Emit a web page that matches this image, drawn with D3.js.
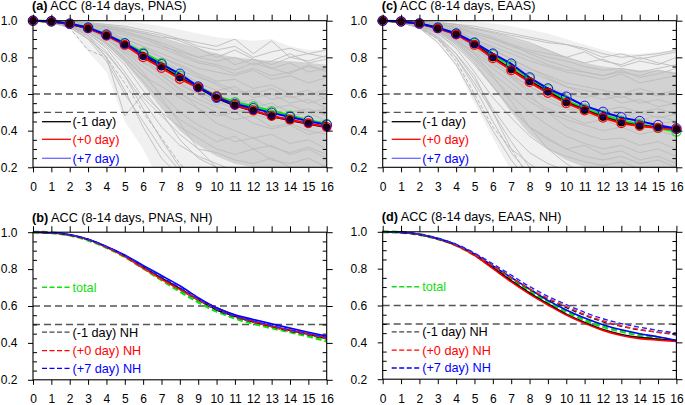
<!DOCTYPE html>
<html><head><meta charset="utf-8">
<script src="https://cdn.jsdelivr.net/npm/d3@7"></script>
<style>body{margin:0;background:#fff}svg{display:block}text{font-family:"Liberation Sans",Arial,Helvetica,sans-serif}</style>
</head><body><svg id="c" width="685" height="405"></svg>
<script>
// ---------- data ----------
const days = [0,1,2,3,4,5,6,7,8,9,10,11,12,13,14,15,16];
const xTicks = days;
const yTicks = [0.2,0.4,0.6,0.8,1.0];
const yMinorTicks = [0.25,0.3,0.35,0.45,0.5,0.55,0.65,0.7,0.75,0.85,0.9,0.95];
const refLevels = [0.6,0.5];

// panel (a) PNAS
const aM1 = [1,0.996,0.982,0.96,0.92,0.871,0.807,0.75,0.69,0.635,0.578,0.537,0.508,0.478,0.457,0.437,0.418];
const aP0 = [1,0.996,0.982,0.958,0.918,0.868,0.8,0.742,0.682,0.635,0.588,0.54,0.51,0.48,0.46,0.44,0.42];
const aP7 = [1,0.997,0.984,0.962,0.924,0.876,0.818,0.762,0.71,0.64,0.58,0.545,0.522,0.497,0.475,0.452,0.432];
const aTot = [1,0.997,0.984,0.962,0.923,0.877,0.825,0.77,0.7,0.64,0.588,0.555,0.532,0.507,0.482,0.456,0.436];
const aOuterHi = [1,1,1,1,0.998,0.995,0.985,0.97,0.95,0.93,0.91,0.9,0.89,0.9,0.86,0.84,0.84];
const aOuterLo = [1,0.99,0.96,0.83,0.72,0.45,0.3,0.1,0,0,0,0,0,0,0,0,0];
const aCoreHi = [1,1,0.998,0.99,0.98,0.965,0.94,0.91,0.88,0.85,0.82,0.8,0.79,0.78,0.78,0.77,0.76];
const aCoreLo = [1,0.995,0.975,0.935,0.87,0.77,0.65,0.52,0.4,0.32,0.26,0.22,0.2,0.18,0.16,0.15,0.14];
const aGrey = [
 [1,1,0.995,0.985,0.97,0.95,0.93,0.91,0.9,0.88,0.86,0.9,0.82,0.89,0.8,0.82,0.84],
 [1,1,0.99,0.98,0.96,0.94,0.91,0.88,0.84,0.8,0.78,0.8,0.76,0.78,0.82,0.77,0.79],
 [1,1,0.99,0.97,0.94,0.9,0.86,0.82,0.78,0.74,0.72,0.7,0.73,0.68,0.7,0.66,0.69],
 [1,0.995,0.985,0.96,0.92,0.87,0.81,0.76,0.72,0.66,0.62,0.64,0.58,0.6,0.55,0.57,0.52],
 [1,0.995,0.98,0.95,0.9,0.83,0.75,0.68,0.6,0.55,0.5,0.46,0.48,0.42,0.44,0.4,0.38],
 [1,0.99,0.975,0.94,0.87,0.78,0.67,0.56,0.46,0.4,0.34,0.37,0.3,0.32,0.27,0.3,0.25],
 [1,0.99,0.97,0.92,0.83,0.7,0.56,0.42,0.32,0.26,0.22,0.18,0.2,0.15,0.17,0.12,0.14],
 [1,0.99,0.965,0.9,0.78,0.6,0.45,0.3,0.18,0.1,0.1,0.05,0.08,0.02,0.05,0,0.03],
 [1,1,0.99,0.975,0.95,0.92,0.88,0.85,0.81,0.77,0.75,0.71,0.74,0.7,0.72,0.75,0.73],
 [1,1,0.99,0.97,0.93,0.88,0.82,0.78,0.73,0.69,0.66,0.62,0.6,0.63,0.58,0.6,0.62],
 [1,0.995,0.98,0.955,0.91,0.85,0.78,0.7,0.63,0.57,0.53,0.5,0.52,0.46,0.48,0.5,0.45],
 [1,0.995,0.985,0.96,0.93,0.88,0.8,0.71,0.62,0.52,0.44,0.4,0.36,0.38,0.33,0.35,0.3],
 [1,0.99,0.97,0.93,0.86,0.76,0.62,0.5,0.42,0.36,0.3,0.27,0.3,0.24,0.22,0.25,0.2],
 [1,1,0.99,0.98,0.96,0.93,0.9,0.86,0.83,0.8,0.82,0.76,0.79,0.74,0.77,0.72,0.74],
 [1,0.995,0.98,0.94,0.88,0.79,0.7,0.64,0.58,0.52,0.48,0.5,0.44,0.41,0.43,0.38,0.4],
 [1,0.99,0.975,0.95,0.9,0.82,0.72,0.58,0.44,0.3,0.2,0.14,0.16,0.1,0.12,0.08,0.1],
 [1,1,0.99,0.97,0.94,0.89,0.84,0.8,0.76,0.71,0.67,0.68,0.63,0.65,0.6,0.62,0.57],
 [1,0.99,0.97,0.92,0.8,0.48,0.6,0.5,0.35,0.25,0.2,0.15,0.18,0.1,0.12,0.08,0.1],
 [1,1,0.995,0.99,0.98,0.97,0.95,0.93,0.9,0.86,0.84,0.86,0.8,0.83,0.85,0.82,0.8],
 [1,0.99,0.97,0.91,0.8,0.62,0.42,0.25,0.15,0.1,0.05,0.07,0.02,0.04,0,0.02,-0.02],
 [1,0.995,0.98,0.95,0.9,0.84,0.77,0.72,0.66,0.6,0.58,0.55,0.57,0.52,0.54,0.5,0.52],
 [1,1,0.995,0.985,0.965,0.94,0.91,0.87,0.82,0.78,0.76,0.73,0.77,0.74,0.71,0.76,0.72],
 [1,0.99,0.97,0.94,0.88,0.8,0.7,0.6,0.5,0.43,0.38,0.34,0.36,0.31,0.28,0.31,0.27],
 [1,0.99,0.975,0.93,0.85,0.72,0.58,0.48,0.38,0.3,0.28,0.24,0.22,0.25,0.2,0.18,0.21],
 [1,1,0.99,0.975,0.95,0.9,0.86,0.8,0.75,0.7,0.65,0.6,0.62,0.57,0.59,0.55,0.58],
 [1,1,0.995,0.985,0.97,0.955,0.94,0.92,0.89,0.85,0.8,0.84,0.79,0.76,0.8,0.78,0.81],
 [1,0.99,0.965,0.9,0.82,0.7,0.52,0.35,0.2,0.12,0.08,0.05,0.06,0.02,0.03,0,0.02],
 [1,0.995,0.985,0.955,0.91,0.86,0.8,0.74,0.68,0.62,0.56,0.52,0.49,0.46,0.48,0.44,0.46],
 [1,0.995,0.98,0.96,0.92,0.86,0.79,0.72,0.65,0.6,0.54,0.58,0.53,0.55,0.5,0.52,0.48]
];
const aGreyDashed = [[1,0.99,0.96,0.84,0.8,0.66,0.5,0.36,0.22,0.12,0.05,0.08,0,0.02,-0.02,0,-0.05]];

// panel (c) EAAS
const cM1 = [1,0.995,0.984,0.96,0.928,0.872,0.8,0.735,0.67,0.613,0.555,0.513,0.475,0.445,0.427,0.418,0.41];
const cP0 = [1,0.995,0.983,0.958,0.925,0.868,0.795,0.73,0.665,0.605,0.55,0.51,0.47,0.44,0.425,0.415,0.408];
const cP7 = [1,0.996,0.985,0.962,0.93,0.88,0.82,0.765,0.69,0.63,0.585,0.535,0.502,0.472,0.452,0.43,0.412];
const cTot = [1,0.996,0.985,0.961,0.929,0.877,0.815,0.755,0.685,0.625,0.565,0.52,0.485,0.455,0.435,0.415,0.395];
const cOuterHi = [1,1,1,1,0.998,0.995,0.985,0.97,0.95,0.93,0.9,0.87,0.84,0.82,0.82,0.83,0.84];
const cOuterLo = [1,0.99,0.96,0.88,0.75,0.55,0.36,0.18,0,0,0,0,0,0,0,0,0];
const cCoreHi = [1,1,0.998,0.99,0.98,0.96,0.935,0.905,0.875,0.84,0.8,0.77,0.75,0.74,0.73,0.73,0.72];
const cCoreLo = [1,0.995,0.975,0.935,0.87,0.77,0.64,0.5,0.38,0.3,0.24,0.2,0.18,0.16,0.15,0.14,0.13];
const cGrey = [
 [1,1,0.995,0.99,0.98,0.96,0.94,0.92,0.9,0.88,0.87,0.85,0.82,0.8,0.81,0.82,0.84],
 [1,1,0.99,0.98,0.96,0.93,0.9,0.87,0.84,0.82,0.8,0.83,0.78,0.76,0.8,0.77,0.75],
 [1,1,0.99,0.97,0.94,0.9,0.86,0.82,0.78,0.75,0.72,0.7,0.68,0.71,0.66,0.68,0.7],
 [1,0.995,0.985,0.96,0.92,0.86,0.8,0.74,0.68,0.64,0.6,0.58,0.6,0.55,0.57,0.53,0.55],
 [1,0.995,0.98,0.95,0.89,0.82,0.74,0.66,0.58,0.52,0.48,0.44,0.46,0.42,0.44,0.4,0.42],
 [1,0.99,0.97,0.93,0.86,0.76,0.64,0.52,0.42,0.35,0.3,0.32,0.27,0.29,0.24,0.26,0.22],
 [1,0.99,0.965,0.91,0.82,0.68,0.52,0.38,0.28,0.22,0.18,0.15,0.17,0.12,0.14,0.1,0.12],
 [1,0.99,0.96,0.88,0.76,0.58,0.4,0.24,0.12,0.05,0,0.03,-0.02,0,-0.03,0,-0.05],
 [1,1,0.99,0.975,0.95,0.92,0.88,0.84,0.8,0.76,0.73,0.72,0.7,0.72,0.7,0.73,0.71],
 [1,1,0.99,0.97,0.93,0.88,0.82,0.77,0.72,0.68,0.64,0.62,0.6,0.58,0.61,0.59,0.6],
 [1,0.995,0.98,0.955,0.91,0.85,0.77,0.69,0.62,0.56,0.52,0.49,0.47,0.5,0.46,0.48,0.45],
 [1,0.995,0.985,0.96,0.93,0.87,0.79,0.7,0.6,0.5,0.42,0.38,0.35,0.36,0.32,0.34,0.3],
 [1,0.99,0.975,0.94,0.87,0.77,0.64,0.52,0.42,0.36,0.3,0.26,0.24,0.26,0.22,0.24,0.2],
 [1,1,0.99,0.98,0.96,0.93,0.9,0.86,0.83,0.8,0.78,0.75,0.73,0.74,0.72,0.74,0.76],
 [1,0.995,0.98,0.945,0.89,0.8,0.71,0.63,0.56,0.5,0.46,0.43,0.4,0.42,0.38,0.4,0.37],
 [1,0.99,0.975,0.95,0.9,0.82,0.7,0.56,0.42,0.3,0.22,0.16,0.12,0.14,0.1,0.12,0.08],
 [1,1,0.99,0.97,0.94,0.89,0.84,0.79,0.74,0.7,0.66,0.64,0.62,0.6,0.63,0.6,0.62],
 [1,0.99,0.97,0.92,0.82,0.7,0.5,0.3,0.22,0.15,0.1,0.06,0.08,0.03,0.05,0.02,0.04],
 [1,1,0.995,0.99,0.98,0.97,0.95,0.93,0.91,0.89,0.87,0.84,0.8,0.82,0.79,0.81,0.83],
 [1,0.99,0.97,0.91,0.8,0.64,0.45,0.28,0.16,0.1,0.06,0.03,0.05,0,0.02,-0.02,0],
 [1,0.995,0.98,0.95,0.9,0.83,0.76,0.7,0.64,0.59,0.56,0.53,0.51,0.53,0.5,0.52,0.49],
 [1,1,0.995,0.985,0.965,0.94,0.91,0.87,0.82,0.78,0.75,0.72,0.7,0.73,0.69,0.71,0.74],
 [1,0.99,0.97,0.94,0.88,0.79,0.69,0.59,0.5,0.43,0.37,0.33,0.3,0.32,0.28,0.3,0.26],
 [1,0.99,0.975,0.93,0.85,0.72,0.58,0.47,0.37,0.3,0.26,0.23,0.21,0.23,0.19,0.2,0.17],
 [1,1,0.99,0.975,0.95,0.9,0.85,0.79,0.74,0.69,0.64,0.6,0.57,0.59,0.55,0.57,0.54],
 [1,1,0.995,0.985,0.97,0.955,0.935,0.91,0.88,0.84,0.8,0.77,0.79,0.75,0.78,0.76,0.8],
 [1,0.99,0.965,0.9,0.8,0.66,0.5,0.34,0.2,0.12,0.07,0.05,0.03,0.05,0.01,0.03,0],
 [1,0.995,0.985,0.955,0.91,0.85,0.79,0.73,0.67,0.61,0.55,0.51,0.48,0.46,0.47,0.44,0.45],
 [1,0.995,0.98,0.96,0.92,0.86,0.78,0.71,0.64,0.58,0.53,0.5,0.52,0.48,0.5,0.47,0.49]
];
const cGreyDashed = [[1,0.99,0.96,0.9,0.78,0.6,0.42,0.3,0.14,0.08,0.04,0.06,0.02,0.04,0,0.02,0]];

// panel (b) PNAS, NH
const bM1 = [1,0.997,0.985,0.96,0.92,0.872,0.812,0.752,0.695,0.635,0.58,0.545,0.515,0.49,0.467,0.447,0.425];
const bP0 = [1,0.997,0.985,0.96,0.918,0.868,0.805,0.745,0.69,0.638,0.59,0.55,0.518,0.492,0.47,0.45,0.43];
const bP7 = [1,0.997,0.986,0.962,0.923,0.876,0.82,0.765,0.71,0.645,0.59,0.552,0.527,0.503,0.48,0.458,0.437];
const bM1NH = [1,0.997,0.985,0.96,0.92,0.87,0.81,0.75,0.69,0.632,0.58,0.54,0.512,0.487,0.463,0.443,0.422];
const bP0NH = [1,0.997,0.985,0.96,0.919,0.869,0.807,0.745,0.688,0.633,0.583,0.542,0.513,0.488,0.465,0.445,0.425];
const bP7NH = [1,0.997,0.986,0.961,0.922,0.874,0.815,0.758,0.7,0.64,0.585,0.545,0.518,0.494,0.47,0.45,0.43];
const bTotal = [1,0.997,0.984,0.958,0.918,0.868,0.806,0.742,0.68,0.622,0.572,0.535,0.506,0.482,0.46,0.437,0.41];

// panel (d) EAAS, NH
const dM1 = [1,0.997,0.985,0.962,0.928,0.875,0.805,0.735,0.668,0.608,0.553,0.508,0.47,0.443,0.427,0.417,0.41];
const dP0 = [1,0.997,0.985,0.961,0.926,0.872,0.8,0.728,0.662,0.603,0.548,0.503,0.465,0.437,0.42,0.412,0.405];
const dP7 = [1,0.997,0.986,0.963,0.93,0.88,0.815,0.752,0.69,0.628,0.576,0.532,0.496,0.468,0.447,0.43,0.41];
const dM1NH = [1,0.997,0.986,0.963,0.93,0.88,0.818,0.752,0.688,0.635,0.588,0.547,0.512,0.487,0.467,0.455,0.44];
const dP0NH = [1,0.997,0.985,0.962,0.928,0.878,0.815,0.75,0.69,0.64,0.595,0.552,0.517,0.49,0.47,0.455,0.447];
const dP7NH = [1,0.997,0.986,0.964,0.932,0.885,0.826,0.765,0.703,0.65,0.605,0.563,0.528,0.502,0.482,0.465,0.45];
const dTotal = [1,0.997,0.985,0.962,0.927,0.874,0.81,0.745,0.68,0.62,0.568,0.522,0.486,0.46,0.44,0.425,0.408];

const topLegend = ["(-1 day)","(+0 day)","(+7 day)"];
const botLegend = ["total","(-1 day) NH","(+0 day) NH","(+7 day) NH"];

// ---------- drawing ----------
const svg = d3.select("#c");
const FONT = '"Liberation Sans",Arial,Helvetica,sans-serif';
const GREEN = "#11e011";
let clipId = 0;

function panel(p) {
  const g = svg.append("g");
  const x = d3.scaleLinear().domain([0,16]).range([p.left, p.left + p.w]);
  const y = d3.scaleLinear().domain([0.2,1.0]).range([p.top + p.h, p.top]);
  const id = "clip" + (clipId++);
  g.append("clipPath").attr("id", id).append("rect")
    .attr("x", p.left).attr("y", p.top).attr("width", p.w).attr("height", p.h);
  const plot = g.append("g").attr("clip-path", `url(#${id})`);
  const line = d3.line().x((d,i) => x(days[i])).y(d => y(d));
  const smooth = d3.line().x((d,i) => x(days[i])).y(d => y(d)).curve(d3.curveMonotoneX);

  if (p.outerHi) {
    const area = (hi, lo) => d3.area().x((d,i) => x(days[i])).y0((d,i) => y(lo[i])).y1(d => y(d))(hi);
    plot.append("path").attr("d", area(p.outerHi, p.outerLo)).attr("fill", "#f0f0f0");
    plot.append("path").attr("d", area(p.coreHi, p.coreLo)).attr("fill", "#d2d2d2");
    plot.selectAll(".grey").data(p.grey).join("path")
      .attr("d", line).attr("fill", "none").attr("stroke", "#bcbcbc").attr("stroke-width", 0.9);
    plot.selectAll(".greyd").data(p.greyDashed).join("path")
      .attr("d", line).attr("fill", "none").attr("stroke", "#b0b0b0").attr("stroke-width", 0.9)
      .attr("stroke-dasharray", "4,2");
  }
  // reference levels
  plot.selectAll(".ref").data(refLevels).join("line")
    .attr("x1", p.left).attr("x2", p.left + p.w)
    .attr("y1", d => y(d)).attr("y2", d => y(d))
    .attr("stroke", "#555").attr("stroke-width", 1.4).attr("stroke-dasharray", "7,4");

  if (p.markers) {
    const ser = p.series;
    ser.forEach(s => {
      g.append("path").attr("d", line(s.v)).attr("fill", "none")
        .attr("stroke", s.c).attr("stroke-width", s.w);
    });
    ser.forEach(s => {
      g.selectAll(null).data(s.v).join("circle")
        .attr("cx", (d,i) => x(days[i])).attr("cy", d => y(d))
        .attr("r", s.r)
        .attr("fill", s.fill || "none")
        .attr("stroke", s.mc || s.c).attr("stroke-width", s.sw || 1);
    });
  } else {
    p.series.forEach(s => {
      g.append("path").attr("d", smooth(s.v)).attr("fill", "none")
        .attr("stroke", s.c).attr("stroke-width", s.w)
        .attr("stroke-dasharray", s.dash || null);
    });
  }

  // frame
  g.append("rect").attr("x", p.left).attr("y", p.top).attr("width", p.w).attr("height", p.h)
    .attr("fill", "none").attr("stroke", "#000").attr("stroke-width", 1.1);

  const fmt = d3.format(".1f");
  const ax = (axis, tx, ty) => {
    const a = g.append("g").attr("transform", `translate(${tx},${ty})`).call(axis);
    a.select(".domain").remove();
    a.selectAll("line").attr("stroke", "#000").attr("stroke-width", 1);
    a.selectAll("text").attr("font-family", FONT).attr("font-size", 12).attr("fill", "#000");
    return a;
  };
  ax(d3.axisBottom(x).tickValues(xTicks).tickSize(5).tickPadding(10).tickFormat(d3.format("d")), 0, p.top + p.h);
  ax(d3.axisTop(x).tickValues(xTicks).tickSize(6).tickFormat(""), 0, p.top);
  ax(d3.axisLeft(y).tickValues(yTicks).tickSize(5).tickPadding(10.5).tickFormat(fmt), p.left, 0);
  ax(d3.axisLeft(y).tickValues(yMinorTicks).tickSize(-4).tickFormat(""), p.left, 0);
  ax(d3.axisRight(y).tickValues(yTicks).tickSize(6).tickFormat(""), p.left + p.w, 0);
  ax(d3.axisRight(y).tickValues(yMinorTicks).tickSize(-4).tickFormat(""), p.left + p.w, 0);

  // title
  const t = g.append("text").attr("x", p.left - 1).attr("y", p.top - 10.5)
    .attr("font-family", FONT).attr("font-size", 12.7).attr("fill", "#000");
  t.append("tspan").attr("font-weight", "bold").text(p.tag);
  t.append("tspan").text(" " + p.title);

  // legend
  p.legend.forEach(L => {
    const ly = p.top + L.dy;
    g.append("line").attr("x1", p.left + 9).attr("x2", p.left + 38).attr("y1", ly).attr("y2", ly)
      .attr("stroke", L.lc).attr("stroke-width", L.lw || 1.3).attr("stroke-dasharray", L.dash || null);
    g.append("text").attr("x", p.left + 39.5).attr("y", ly).attr("dy", "0.35em")
      .attr("font-family", FONT).attr("font-size", 12.7).attr("fill", L.tc).text(L.text);
  });
}

const W = 293.7;
const topSeries = (m1, p0, p7, tot) => [
  {v: tot, c: GREEN, w: 2.6, r: 4.6, sw: 1.1},
  {v: m1, c: "#000", w: 2, r: 3.6, fill: "#1a0010", sw: 1},
  {v: p0, c: "#f00", w: 2, r: 4.3, sw: 1.3},
  {v: p7, c: "#00f", w: 2, r: 4.8, sw: 0.9}
];
const topLeg = [
  {dy: 101, text: topLegend[0], lc: "#000", tc: "#000"},
  {dy: 118.6, text: topLegend[1], lc: "#f00", tc: "#f00"},
  {dy: 137.6, text: topLegend[2], lc: "#6a6aff", tc: "#00f"}
];
const botSeries = (m1, p0, p7, m1n, p0n, p7n, tot) => [
  {v: tot, c: GREEN, w: 3, dash: "6,3"},
  {v: m1, c: "#000", w: 1.6},
  {v: p0, c: "#f00", w: 1.6},
  {v: p7, c: "#00f", w: 1.6},
  {v: m1n, c: "#222", w: 1.4, dash: "5,3"},
  {v: p0n, c: "#f22", w: 1.4, dash: "5,3"},
  {v: p7n, c: "#22f", w: 1.4, dash: "5,3"}
];
const botLeg = [
  {dy: 55, text: botLegend[0], lc: GREEN, tc: GREEN, dash: "5,2.5", lw: 1.4},
  {dy: 100, text: botLegend[1], lc: "#444", tc: "#000", dash: "5,2.5"},
  {dy: 118.4, text: botLegend[2], lc: "#f00", tc: "#f00", dash: "5,2.5"},
  {dy: 136.2, text: botLegend[3], lc: "#00f", tc: "#00f", dash: "5,2.5"}
];

panel({left: 33, top: 20.7, w: W, h: 146.6, tag: "(a)", title: "ACC (8-14 days, PNAS)",
  markers: true, series: topSeries(aM1, aP0, aP7, aTot),
  outerHi: aOuterHi, outerLo: aOuterLo, coreHi: aCoreHi, coreLo: aCoreLo, grey: aGrey, greyDashed: aGreyDashed,
  legend: topLeg});
panel({left: 382.7, top: 20.7, w: W, h: 146.6, tag: "(c)", title: "ACC (8-14 days, EAAS)",
  markers: true, series: topSeries(cM1, cP0, cP7, cTot),
  outerHi: cOuterHi, outerLo: cOuterLo, coreHi: cCoreHi, coreLo: cCoreLo, grey: cGrey, greyDashed: cGreyDashed,
  legend: topLeg});
panel({left: 33, top: 232.2, w: W, h: 147.6, tag: "(b)", title: "ACC (8-14 days, PNAS, NH)",
  markers: false, series: botSeries(bM1, bP0, bP7, bM1NH, bP0NH, bP7NH, bTotal), legend: botLeg});
panel({left: 382.7, top: 231.8, w: W, h: 147.4, tag: "(d)", title: "ACC (8-14 days, EAAS, NH)",
  markers: false, series: botSeries(dM1, dP0, dP7, dM1NH, dP0NH, dP7NH, dTotal), legend: botLeg});
</script>
</body></html>
